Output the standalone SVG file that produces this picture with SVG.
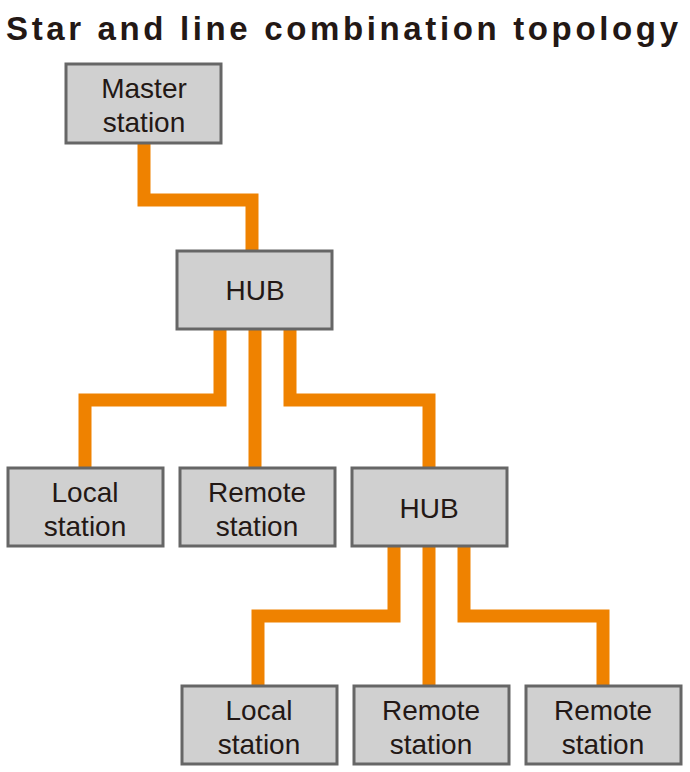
<svg xmlns="http://www.w3.org/2000/svg" width="690" height="772" viewBox="0 0 690 772">
<style>
.box{fill:#d0d0d0;stroke:#666;stroke-width:3}
.t{font-family:"Liberation Sans",Arial,sans-serif;font-size:28px;fill:#231815;text-anchor:middle}
.w{fill:none;stroke:#ef8200;stroke-width:13;stroke-linejoin:miter}
</style>
<rect width="690" height="772" fill="#fff"/>
<text x="6" y="40" font-family="Liberation Sans,Arial,sans-serif" font-weight="bold" font-size="33" fill="#231815" textLength="672">Star and line combination topology</text>
<g id="connectors">
<path class="w" d="M144,143 V200 H252 V251"/>
<path class="w" d="M220,329 V400 H85 V468"/>
<path class="w" d="M255,329 V468"/>
<path class="w" d="M290,329 V400 H429 V468"/>
<path class="w" d="M394,546 V616 H258 V686"/>
<path class="w" d="M429,546 V686"/>
<path class="w" d="M464,546 V616 H603 V686"/>
</g>
<g id="master"><rect class="box" x="66" y="64" width="155" height="79"/><text class="t" x="144" y="98">Master</text><text class="t" x="144" y="132">station</text></g>
<g id="hub1"><rect class="box" x="177" y="251" width="155" height="78"/><text class="t" x="255" y="300">HUB</text></g>
<g id="local1"><rect class="box" x="8" y="468" width="155" height="78"/><text class="t" x="85" y="502">Local</text><text class="t" x="85" y="536">station</text></g>
<g id="remote1"><rect class="box" x="180" y="468" width="155" height="78"/><text class="t" x="257" y="502">Remote</text><text class="t" x="257" y="536">station</text></g>
<g id="hub2"><rect class="box" x="352" y="468" width="155" height="78"/><text class="t" x="429" y="518">HUB</text></g>
<g id="local2"><rect class="box" x="182" y="686" width="155" height="78"/><text class="t" x="259" y="720">Local</text><text class="t" x="259" y="754">station</text></g>
<g id="remote2"><rect class="box" x="354" y="686" width="155" height="78"/><text class="t" x="431" y="720">Remote</text><text class="t" x="431" y="754">station</text></g>
<g id="remote3"><rect class="box" x="526" y="686" width="155" height="78"/><text class="t" x="603" y="720">Remote</text><text class="t" x="603" y="754">station</text></g>
</svg>
